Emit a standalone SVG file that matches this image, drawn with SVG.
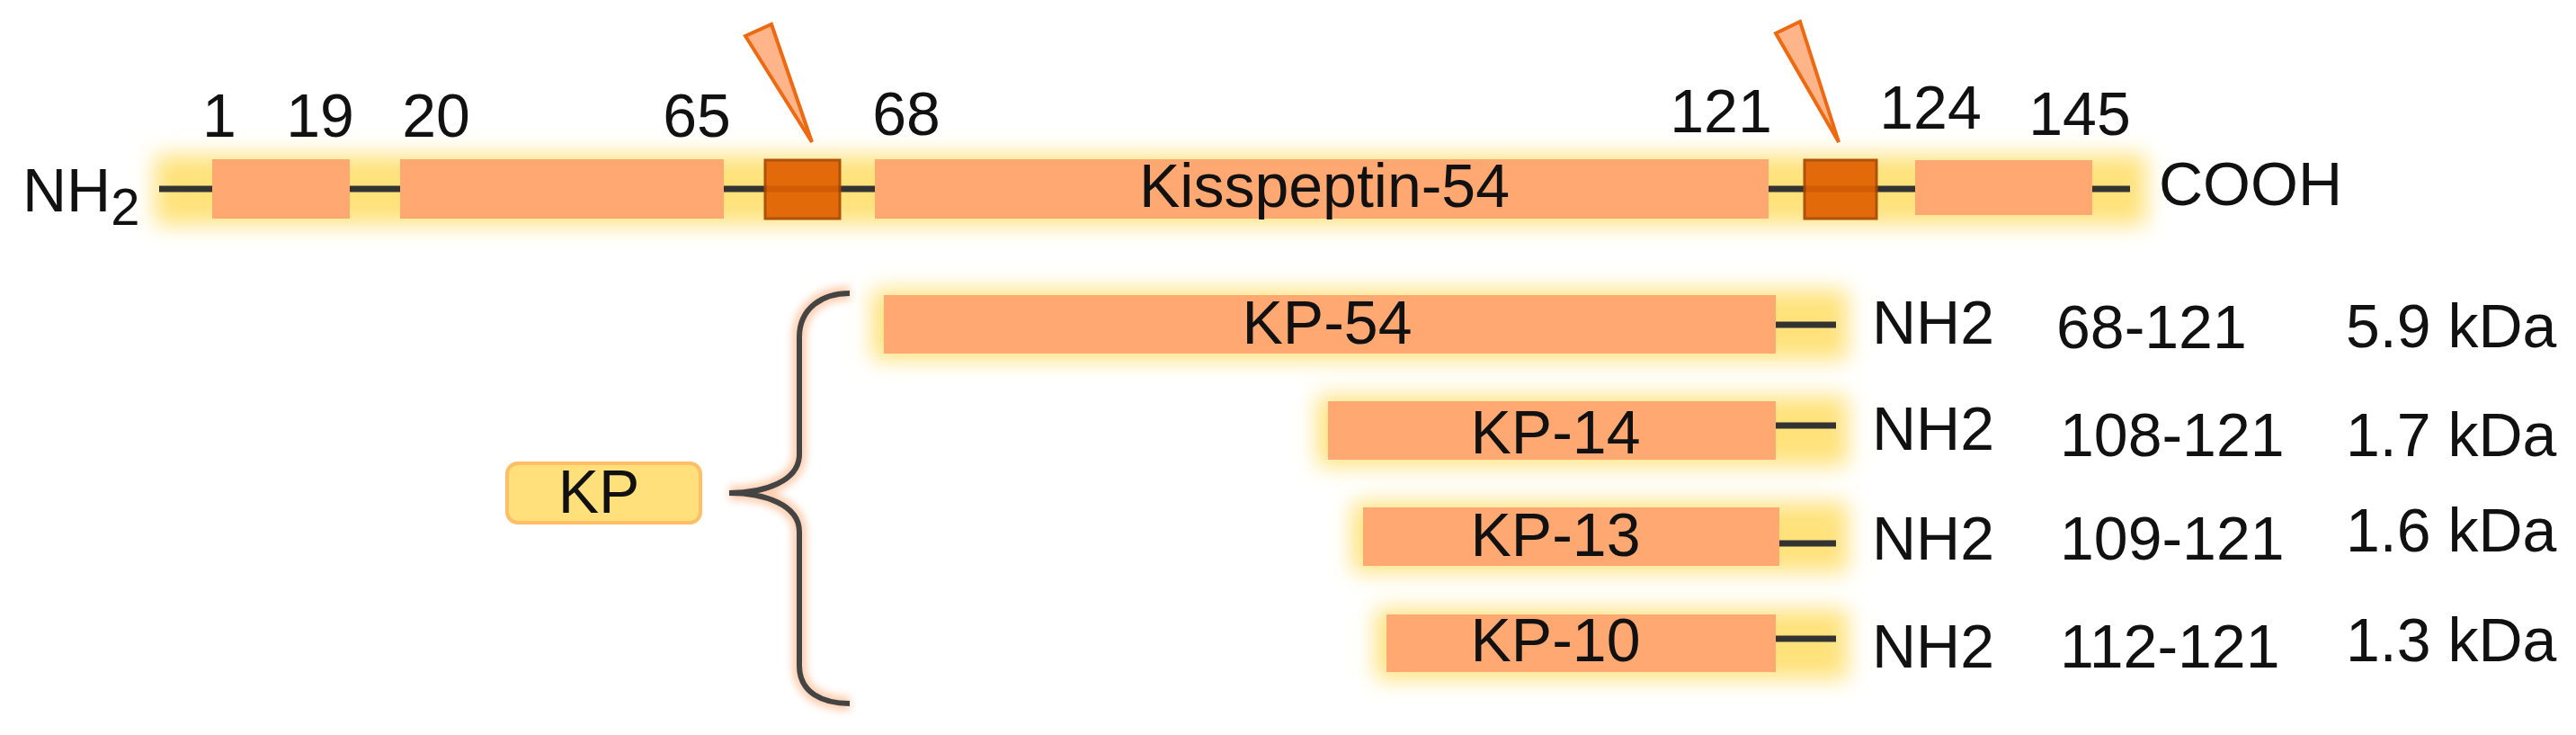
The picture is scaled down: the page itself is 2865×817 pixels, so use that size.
<svg xmlns="http://www.w3.org/2000/svg" width="2865" height="817" viewBox="0 0 2865 817">
<style>
.t{font-family:"Liberation Sans",Arial,sans-serif;font-size:68px;fill:#111}
.m{text-anchor:middle}
.bar{fill:#FFA872}
.dark{fill:#E06000;stroke:#A84600;stroke-width:3;opacity:0.92}
.ln{stroke:#333;stroke-width:7;fill:none}
.glow{fill:#FFE27A;filter:url(#blur)}
.tri{fill:#FFB48A;stroke:#EE6A12;stroke-width:4;stroke-linejoin:miter}
</style>
<defs>
<filter id="blur" x="-20%" y="-100%" width="140%" height="300%"><feGaussianBlur stdDeviation="12"/></filter>
<filter id="blur2" x="-50%" y="-20%" width="200%" height="140%"><feGaussianBlur stdDeviation="4"/></filter>
</defs>
<rect width="2865" height="817" fill="#fff"/>

<g id="precursor">
<rect class="glow" x="172" y="172" width="2215" height="78"/>
<line class="ln" x1="177" y1="210" x2="2369" y2="210"/>
<rect class="bar" x="236" y="177" width="153" height="66"/>
<rect class="bar" x="445" y="177" width="360" height="66"/>
<rect class="bar" x="973" y="177" width="994" height="66"/>
<rect class="bar" x="2130" y="178" width="197" height="61"/>
<rect class="dark" x="851" y="178" width="83" height="65"/>
<rect class="dark" x="2007" y="178" width="80" height="65"/>
<text class="t m" x="1473" y="230">Kisspeptin-54</text>
<text class="t" x="25" y="235">NH<tspan font-size="58" dy="15">2</tspan></text>
<text class="t" x="2401" y="228">COOH</text>
</g>

<g id="positions">
<text class="t m" x="244" y="152">1</text>
<text class="t m" x="356" y="152">19</text>
<text class="t m" x="485" y="152">20</text>
<text class="t m" x="775" y="152">65</text>
<text class="t m" x="1008" y="150">68</text>
<text class="t m" x="1914" y="147">121</text>
<text class="t m" x="2147" y="143">124</text>
<text class="t m" x="2313" y="150">145</text>
</g>

<g id="cleavage1"><polygon class="tri" points="829,40 858,27 903,158"/></g>
<g id="cleavage2"><polygon class="tri" points="1975,37 2002,24 2045,158"/></g>

<g id="kp">
<rect x="564" y="515" width="215" height="66" rx="12" fill="#FFE07A" stroke="#FFBF66" stroke-width="4"/>
<text class="t m" x="666" y="570">KP</text>
</g>

<g id="kp54">
<rect class="glow" x="970" y="322" width="1085" height="78"/>
<rect class="bar" x="983" y="328" width="992" height="65"/>
<text class="t m" x="1476" y="382">KP-54</text>
</g>
<g id="kp14">
<rect class="glow" x="1465" y="440" width="590" height="78"/>
<rect class="bar" x="1477" y="446" width="498" height="65"/>
<text class="t m" x="1730" y="504">KP-14</text>
</g>
<g id="kp13">
<rect class="glow" x="1504" y="558" width="551" height="78"/>
<rect class="bar" x="1516" y="564" width="463" height="65"/>
<text class="t m" x="1730" y="618">KP-13</text>
</g>
<g id="kp10">
<rect class="glow" x="1530" y="677" width="525" height="78"/>
<rect class="bar" x="1542" y="683" width="433" height="64"/>
<text class="t m" x="1730" y="735">KP-10</text>
</g>

<g id="connectors">
<path d="M811,548 C850,548 889,535 889,505 L889,375 C889,342 915,326 945,326 M811,548 C850,548 889,561 889,591 L889,740 C889,770 915,782 945,782" fill="none" stroke="#FFCFB0" stroke-width="16" filter="url(#blur2)"/>
<path d="M811,548 C850,548 889,535 889,505 L889,375 C889,342 915,326 945,326 M811,548 C850,548 889,561 889,591 L889,740 C889,770 915,782 945,782" fill="none" stroke="#444" stroke-width="6"/>
<line class="ln" x1="1975" y1="361" x2="2042" y2="361"/>
<line class="ln" x1="1975" y1="473" x2="2042" y2="473"/>
<line class="ln" x1="1979" y1="604" x2="2042" y2="604"/>
<line class="ln" x1="1975" y1="710" x2="2042" y2="710"/>
</g>

<g id="labels">
<text class="t" x="2082" y="382">NH2</text>
<text class="t" x="2082" y="500">NH2</text>
<text class="t" x="2082" y="622">NH2</text>
<text class="t" x="2082" y="742">NH2</text>
<text class="t" x="2287" y="387">68-121</text>
<text class="t" x="2291" y="507">108-121</text>
<text class="t" x="2291" y="622">109-121</text>
<text class="t" x="2291" y="742">112-121</text>
<text class="t" x="2609" y="386">5.9 kDa</text>
<text class="t" x="2609" y="507">1.7 kDa</text>
<text class="t" x="2609" y="613">1.6 kDa</text>
<text class="t" x="2609" y="735">1.3 kDa</text>
</g>
</svg>
